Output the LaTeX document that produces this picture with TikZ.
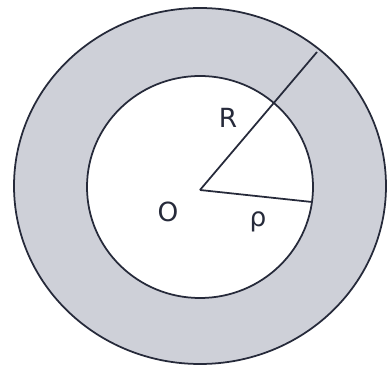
\documentclass[tikz,border=0pt]{standalone}
\usepackage{fontspec}
\setmainfont{DejaVu Sans}
\usepackage{xcolor}
\usepackage{tikz}
\definecolor{GrisLapiz}{RGB}{206,208,216}
\definecolor{TrazoAzul}{RGB}{38,42,58}

\begin{document}
\begin{tikzpicture}[x=0.02cm,y=-0.02cm,line width=1pt]
  \useasboundingbox (0,0) rectangle (389,371);
  \tikzset{etiqueta/.style={font=\fontsize{15}{17}\selectfont,text=TrazoAzul}}

  \coordinate (O) at (200,190);
  \coordinate (A) at (317,52);
  \coordinate (B) at (312,202);

  \fill[GrisLapiz,even odd rule] (200,186) ellipse (186 and 178)
    (200,187) ellipse (113 and 111);
  \draw[TrazoAzul] (200,186) ellipse (186 and 178);
  \draw[TrazoAzul] (200,187) ellipse (113 and 111);

  \draw[TrazoAzul] (O) -- (A);
  \draw[TrazoAzul] (O) -- (B);

  \node[etiqueta] (R) at (228,118) {R};
  \node[etiqueta] (o) at (168,212) {O};
  \node[etiqueta] (rho) at (258,222) {ρ};
\end{tikzpicture}
\end{document}
